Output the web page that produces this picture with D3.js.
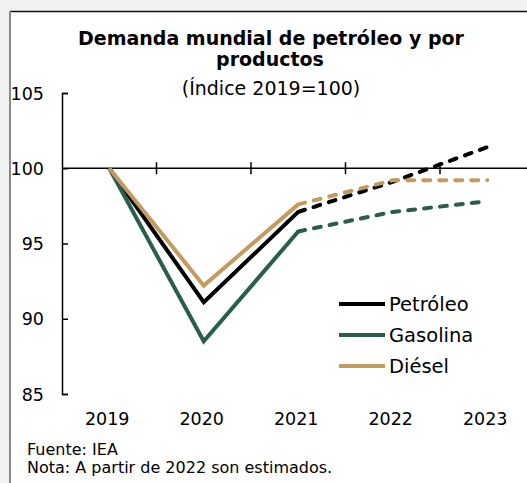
<!DOCTYPE html>
<html>
<head>
<meta charset="utf-8">
<script src="https://cdn.jsdelivr.net/npm/d3@7"></script>
<style>
  body { margin: 0; background: #f2f2f2; }
  svg { display: block; font-family: "DejaVu Sans", sans-serif; }
</style>
</head>
<body>
<div id="chart"></div>
<script>
// Data
const years = ["2019", "2020", "2021", "2022", "2023"];
const petroleo = [100, 91.1, 97.1, 99.1, 101.4];
const gasolina = [100, 88.5, 95.8, 97.1, 97.8];
const diesel = [100, 92.2, 97.6, 99.2, 99.2];
const yTicks = [85, 90, 95, 100, 105];
const estimateFrom = 2; // index of last actual value (2021)

const series = [
    { name: "Petróleo", values: petroleo, color: "#000000" },
    { name: "Gasolina", values: gasolina, color: "#2a5d4b" },
    { name: "Diésel", values: diesel, color: "#c49b5e" }
];

const W = 527, H = 483;

const svg = d3.select("#chart")
    .append("svg")
    .attr("width", W)
    .attr("height", H);

// white panel with border
svg.append("rect")
    .attr("x", 10).attr("y", 11)
    .attr("width", W).attr("height", H)
    .style("fill", "#fff");
svg.append("line")
    .attr("x1", 10).attr("x2", W).attr("y1", 11.5).attr("y2", 11.5)
    .style("stroke", "#111").style("stroke-width", 1.5);
svg.append("line")
    .attr("x1", 10).attr("x2", 10).attr("y1", 11).attr("y2", H)
    .style("stroke", "#888").style("stroke-width", 2);

// Scales
const xScale = d3.scaleBand()
    .domain(years)
    .range([62, 534.5]);

const yScale = d3.scaleLinear()
    .domain([85, 105])
    .range([394, 93]);

const xc = d => xScale(d) + xScale.bandwidth() / 2;

// Title
const title = svg.append("text")
    .attr("text-anchor", "middle")
    .style("fill", "#000");
title.append("tspan").attr("x", 271).attr("y", 45)
    .style("font-weight", "bold").style("font-size", "19px")
    .text("Demanda mundial de petróleo y por");
title.append("tspan").attr("x", 270).attr("y", 66)
    .style("font-weight", "bold").style("font-size", "19px")
    .text("productos");
title.append("tspan").attr("x", 271).attr("y", 95)
    .style("font-size", "19px")
    .text("(Índice 2019=100)");

// Y axis
const yAxis = svg.append("g")
    .attr("transform", "translate(62,0)")
    .call(d3.axisRight(yScale).tickValues(yTicks).tickSize(6).tickFormat(""));
yAxis.select(".domain").style("stroke-width", 1.5);
yAxis.selectAll(".tick line").style("stroke-width", 1.5);

svg.selectAll(".ylabel")
    .data(yTicks)
    .enter()
    .append("text")
    .attr("class", "ylabel")
    .attr("x", 44)
    .attr("y", d => yScale(d) + 6.5)
    .attr("text-anchor", "end")
    .style("font-size", "17.5px")
    .text(d => d);

// X axis line at 100 with boundary ticks
const xAxis = svg.append("g")
    .attr("transform", `translate(0, ${yScale(100)})`);
xAxis.append("line")
    .attr("x1", 62).attr("x2", W)
    .style("stroke", "#000").style("stroke-width", 1.5);
xAxis.selectAll(".xtick")
    .data(years.slice(1))
    .enter()
    .append("line")
    .attr("class", "xtick")
    .attr("x1", d => xScale(d)).attr("x2", d => xScale(d))
    .attr("y1", -6).attr("y2", 6)
    .style("stroke", "#000").style("stroke-width", 1.5);

svg.selectAll(".xlabel")
    .data(years)
    .enter()
    .append("text")
    .attr("class", "xlabel")
    .attr("x", d => xc(d) - 2)
    .attr("y", 425)
    .attr("text-anchor", "middle")
    .style("font-size", "17.5px")
    .text(d => d);

// Lines
const line = d3.line()
    .x(d => xc(d.year))
    .y(d => yScale(d.value));

series.forEach(s => {
    const pts = s.values.map((v, i) => ({ year: years[i], value: v }));
    svg.append("path")
        .datum(pts.slice(0, estimateFrom + 1))
        .attr("d", line)
        .style("fill", "none")
        .style("stroke", s.color)
        .style("stroke-width", 4);
    svg.append("path")
        .datum(pts.slice(estimateFrom))
        .attr("d", line)
        .style("fill", "none")
        .style("stroke", s.color)
        .style("stroke-width", 4)
        .style("stroke-linecap", "round")
        .style("stroke-dasharray", "7,9");
});

// Legend
const legend = svg.append("g")
    .attr("transform", "translate(339, 304)");
legend.selectAll(".legend-item")
    .data(series)
    .enter()
    .append("g")
    .attr("transform", (d, i) => `translate(0, ${i * 31})`)
    .each(function (d) {
        d3.select(this).append("line")
            .attr("x1", 0).attr("x2", 46)
            .style("stroke", d.color)
            .style("stroke-width", 4);
        d3.select(this).append("text")
            .attr("x", 50).attr("y", 7)
            .style("font-size", "19.5px")
            .text(d.name);
    });

// Footer
svg.append("text")
    .attr("x", 27).attr("y", 455)
    .style("font-size", "16px")
    .text("Fuente: IEA");
svg.append("text")
    .attr("x", 27).attr("y", 473)
    .style("font-size", "16px")
    .text("Nota: A partir de 2022 son estimados.");
</script>
</body>
</html>
